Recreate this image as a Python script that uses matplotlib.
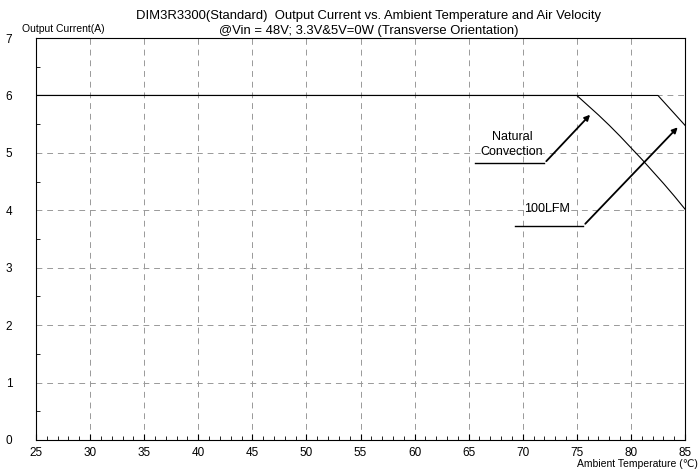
import matplotlib
matplotlib.use("Agg")
import matplotlib.pyplot as plt
import numpy as np

plt.rcParams['font.family'] = ['Liberation Sans', 'DejaVu Sans']

nat_x = [25, 75, 76, 77, 78, 79, 80, 81, 82, 83, 84, 85]
nat_y = [6.0, 6.0, 5.83, 5.66, 5.48, 5.29, 5.09, 4.89, 4.68, 4.47, 4.25, 4.02]
lfm_x = [25, 82.5, 85]
lfm_y = [6.0, 6.0, 5.48]

x_ticks = [25, 30, 35, 40, 45, 50, 55, 60, 65, 70, 75, 80, 85]
y_ticks = [0, 1, 2, 3, 4, 5, 6, 7]

fig = plt.figure(figsize=(6.99, 4.70), dpi=100)
ax = fig.add_axes([0.0515, 0.064, 0.9285, 0.855])

ax.plot(nat_x, nat_y, color='black', lw=0.8)
ax.plot(lfm_x, lfm_y, color='black', lw=0.8)

ax.set_xlim(25, 85)
ax.set_ylim(0, 7)
ax.set_xticks(x_ticks)
ax.set_yticks(y_ticks)
ax.set_xticks(np.arange(25, 86, 1), minor=True)
ax.set_yticks(np.arange(0, 7.01, 0.5), minor=True)
ax.tick_params(axis='both', which='both', direction='in', labelsize=8.5)
ax.tick_params(axis='x', which='major', length=4, pad=5, top=False)
ax.tick_params(axis='x', which='minor', length=3, top=False)
ax.tick_params(axis='y', which='major', length=0, pad=17, right=False)
ax.tick_params(axis='y', which='minor', length=3, right=False)
ax.grid(True, which='major', color='#999999', ls=(0, (6, 5)), lw=0.7)
for s in ax.spines.values():
    s.set_linewidth(0.8)

# annotations
ax.plot([65.6, 72.0], [4.82, 4.82], color='black', lw=1.0)
ax.annotate('', xy=(76.4, 5.7), xytext=(72.0, 4.82),
            arrowprops=dict(arrowstyle='-|>', color='black', lw=1.3, mutation_scale=8))
ax.text(69.0, 5.15, 'Natural\nConvection', ha='center', va='center', fontsize=9,
        linespacing=1.3)

ax.plot([69.3, 75.6], [3.73, 3.73], color='black', lw=1.0)
ax.annotate('', xy=(84.5, 5.48), xytext=(75.6, 3.73),
            arrowprops=dict(arrowstyle='-|>', color='black', lw=1.3, mutation_scale=8))
ax.text(72.2, 4.03, '100LFM', ha='center', va='center', fontsize=9)

fig.text(0.527, 0.967, 'DIM3R3300(Standard)  Output Current vs. Ambient Temperature and Air Velocity',
         ha='center', va='center', fontsize=9.4)
fig.text(0.527, 0.933, '@Vin = 48V; 3.3V&5V=0W (Transverse Orientation)',
         ha='center', va='center', fontsize=9.4)
fig.text(0.09, 0.938, 'Output Current(A)', ha='center', va='center', fontsize=7.5)
fig.text(0.998, 0.012, 'Ambient Temperature (℃)', ha='right', va='center', fontsize=7.5)

fig.savefig('out.png', dpi=100)
